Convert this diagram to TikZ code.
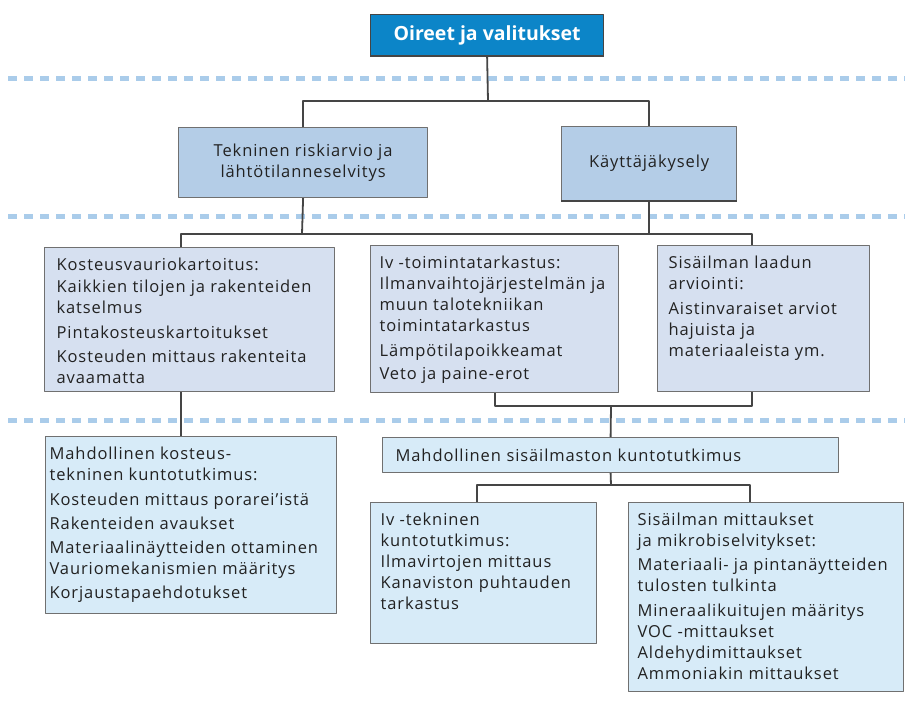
\documentclass[tikz,border=0pt]{standalone}
\usepackage{fontspec}
\setmainfont{Open Sans}[LetterSpace=5.5]
\newfontfamily\headfont{Open Sans}
\definecolor{topblue}{HTML}{0C85C8}
\definecolor{fillone}{HTML}{B4CDE7}
\definecolor{filltwo}{HTML}{D6E0F0}
\definecolor{fillthree}{HTML}{D7EBF8}
\definecolor{sepblue}{HTML}{AACCEA}
\definecolor{edgegray}{HTML}{707070}
\definecolor{linkgray}{HTML}{454545}
\definecolor{inkdark}{HTML}{222222}
\begin{document}
\begin{tikzpicture}[x=1pt,y=-1pt,line join=round,
	box/.style={draw=edgegray,line width=1.2pt,anchor=north west,inner xsep=12pt,inner ysep=10pt,text=inkdark,font=\fontsize{16.5}{21}\selectfont},
	lvlone/.style={box,fill=fillone,align=center,inner sep=0pt},
	lvltwo/.style={box,fill=filltwo},
	lvlthree/.style={box,fill=fillthree},
	link/.style={draw=linkgray,line width=1.8pt},
	sepline/.style={sepblue,line width=5pt,dash pattern=on 9pt off 7pt}]
	\def\cell#1#2#3{\parbox[t][#2][t]{#1}{\raggedright #3}}
	\useasboundingbox (0,0) rectangle (905,709);
	\draw[sepline] (8,79)--(905,79);
	\draw[sepline] (8,216)--(905,216);
	\draw[sepline] (8,420)--(905,420);
	
	\node[box,fill=topblue,draw=linkgray,inner sep=0pt,minimum width=233pt,minimum height=41pt,text=white,font=\headfont\bfseries\fontsize{19.5}{22}\selectfont] (oireet) at (370,14) {Oireet ja valitukset};
	\node[lvlone,minimum width=249pt,minimum height=70pt] (tek) at (178,127) {Tekninen riskiarvio ja\\ lähtötilanneselvitys};
	\node[lvlone,minimum width=175pt,minimum height=74pt] (kay) at (561,126) {Käyttäjäkysely};
	\draw[linkgray,line width=2.5pt] (oireet.south west)--(oireet.south east);
	\draw[linkgray,line width=2.2pt] (kay.south west)--(kay.south east);
	
	\node[lvltwo] (kos) at (44,247) {\cell{266pt}{124pt}{Kosteusvauriokartoitus:\\[1pt] Kaikkien tilojen ja rakenteiden\\ katselmus\\[4pt] Pintakosteuskartoitukset\\[3pt] Kosteuden mittaus rakenteita\\ avaamatta}};
	\node[lvltwo,inner xsep=9pt] (ivt) at (370,245) {\cell{230pt}{127pt}{Iv -toimintatarkastus:\\ Ilmanvaihtojärjestelmän ja\\ muun talotekniikan\\ toimintatarkastus\\[4pt] Lämpötilapoikkeamat\\[2pt] Veto ja paine-erot}};
	\node[lvltwo,inner xsep=11pt] (ilma) at (657,245) {\cell{190pt}{126pt}{Sisäilman laadun\\ arviointi:\\[4pt] Aistinvaraiset arviot\\ hajuista ja\\ materiaaleista ym.}};
	
	\node[lvlthree,inner xsep=4pt] (kost) at (45,436) {\cell{283pt}{157pt}{Mahdollinen kosteus-\\ tekninen kuntotutkimus:\\[4pt] Kosteuden mittaus porarei’istä\\[3pt] Rakenteiden avaukset\\[3pt] Materiaalinäytteiden ottaminen\\ Vauriomekanismien määritys\\[3pt] Korjaustapaehdotukset}};
	\node[lvlthree,inner xsep=13pt,inner ysep=0pt,text width=430pt,minimum height=35pt,align=left] (sis) at (382,437) {Mahdollinen sisäilmaston kuntotutkimus};
	\node[lvlthree,inner xsep=10pt] (ivtk) at (370,502) {\cell{206pt}{121pt}{Iv -tekninen\\ kuntotutkimus:\\ Ilmavirtojen mittaus\\ Kanaviston puhtauden\\ tarkastus}};
	\node[lvlthree,inner xsep=9pt] (mitt) at (628,502) {\cell{257pt}{169pt}{Sisäilman mittaukset\\ ja mikrobiselvitykset:\\[3pt] Materiaali- ja pintanäytteiden\\ tulosten tulkinta\\[4pt] Mineraalikuitujen määritys\\ VOC -mittaukset\\ Aldehydimittaukset\\ Ammoniakin mittaukset}};
	
	\coordinate (busA) at (488,101);
	\coordinate (busB) at (302,234);
	\coordinate (busC) at (611,406);
	\coordinate (busD) at (611,485);
	\draw[link] (oireet.south)--(busA);
	\draw[link] (tek.north)|-(busA)-|(kay.north);
	\draw[link] (tek.south)--(busB);
	\draw[link] (kay.south)--(kay.south|-busB);
	\draw[link] ([xshift=-9pt]kos.north)|-(busB)--(kay.south|-busB)-|([xshift=-12pt]ilma.north);
	\draw[link] ([xshift=-9pt]kos.south)--([xshift=-9pt]kos.south|-kost.north);
	\draw[link] (ivt.south)|-(busC)-|([xshift=-12pt]ilma.south);
	\draw[link] (busC)--(sis.north);
	\draw[link] (sis.south)--(busD);
	\draw[link] ([xshift=-7pt]ivtk.north)|-(busD)-|([xshift=-16pt]mitt.north);
\end{tikzpicture}
\end{document}
